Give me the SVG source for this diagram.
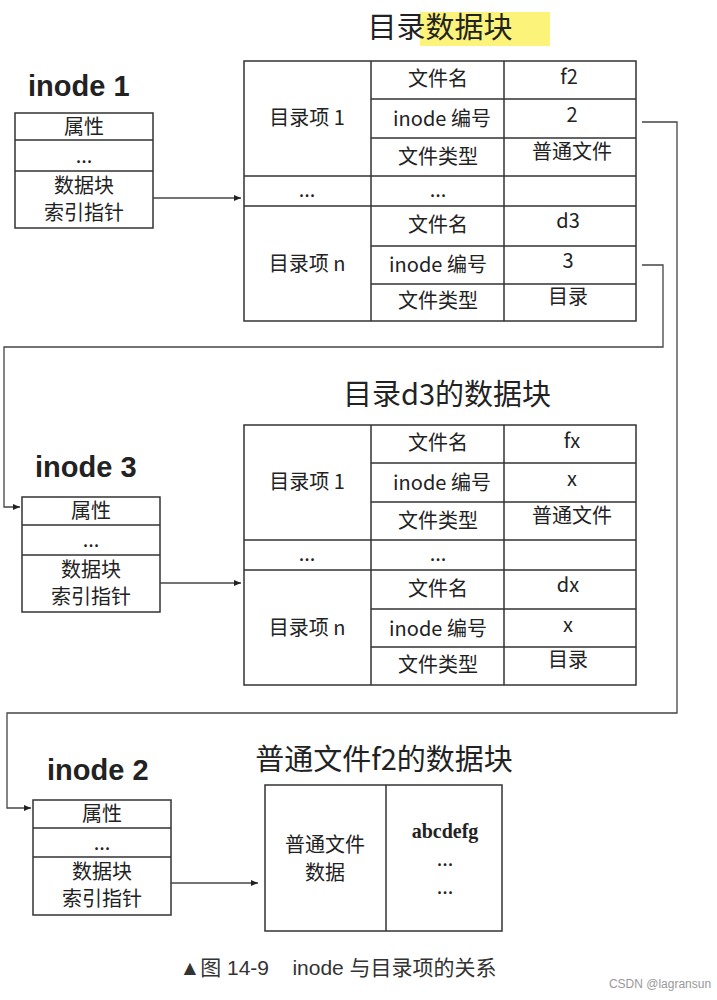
<svg xmlns="http://www.w3.org/2000/svg" width="717" height="1000" viewBox="0 0 717 1000">
<style>
.b{fill:#fff;stroke:#333;stroke-width:1.5}
.l{stroke:#333;stroke-width:1.5;fill:none}
.c{stroke:#444;stroke-width:1.3;fill:none}
text{font-family:"Noto Sans CJK SC","Liberation Serif",sans-serif;fill:#222;text-anchor:middle}
.t{font-size:20px}
.h{font-size:29px;font-family:"Liberation Sans","Noto Sans CJK SC",sans-serif;font-weight:bold;text-anchor:start}
.T{font-size:29px}
</style>
<defs><marker id="a" markerWidth="8" markerHeight="8" refX="7" refY="4" orient="auto" markerUnits="userSpaceOnUse"><path d="M0,1 L7,4 L0,7 z" fill="#222"/></marker></defs>
<rect x="420" y="12" width="130" height="34" fill="#fbf37a"/>
<text class="T" x="440" y="38">目录数据块</text>
<text class="h" x="28" y="96">inode 1</text>
<text class="T" x="447" y="405">目录d3的数据块</text>
<text class="h" x="35" y="477">inode 3</text>
<text class="T" x="384" y="770">普通文件f2的数据块</text>
<text class="h" x="47" y="780">inode 2</text>

<g id="inode1">
<rect class="b" x="15" y="113" width="138" height="115"/>
<path class="l" d="M15 140H153M15 171H153"/>
<text class="t" x="84" y="134">属性</text><text class="t" x="84" y="163">...</text>
<text class="t" x="84" y="193">数据块</text><text class="t" x="84" y="220">索引指针</text>
</g>
<g id="inode3">
<rect class="b" x="22" y="497" width="138" height="115"/>
<path class="l" d="M22 525H160M22 555H160"/>
<text class="t" x="91" y="518">属性</text><text class="t" x="91" y="547">...</text>
<text class="t" x="91" y="577">数据块</text><text class="t" x="91" y="604">索引指针</text>
</g>
<g id="inode2">
<rect class="b" x="33" y="800" width="138" height="115"/>
<path class="l" d="M33 828H171M33 857H171"/>
<text class="t" x="102" y="821">属性</text><text class="t" x="102" y="850">...</text>
<text class="t" x="102" y="879">数据块</text><text class="t" x="102" y="906">索引指针</text>
</g>

<g id="dir1">
<rect class="b" x="244" y="61" width="392" height="260"/>
<path class="l" d="M371 61V321M504 61V321M371 99H636M371 138H636M244 176H636M244 206H636M371 246H636M371 284H636"/>
<text class="t" x="307" y="125">目录项 1</text><text class="t" x="307" y="197">...</text><text class="t" x="307" y="271">目录项 n</text>
<text class="t" x="438" y="86">文件名</text><text class="t" x="569" y="84">f2</text>
<text class="t" x="442" y="126">inode 编号</text><text class="t" x="572" y="122">2</text>
<text class="t" x="438" y="164">文件类型</text><text class="t" x="572" y="159">普通文件</text>
<text class="t" x="438" y="197">...</text>
<text class="t" x="438" y="232">文件名</text><text class="t" x="568" y="228">d3</text>
<text class="t" x="438" y="272">inode 编号</text><text class="t" x="568" y="268">3</text>
<text class="t" x="438" y="308">文件类型</text><text class="t" x="568" y="304">目录</text>
</g>
<g id="dir3">
<rect class="b" x="244" y="425" width="392" height="260"/>
<path class="l" d="M371 425V685M504 425V685M371 463H636M371 502H636M244 540H636M244 570H636M371 609H636M371 647H636"/>
<text class="t" x="307" y="489">目录项 1</text><text class="t" x="307" y="561">...</text><text class="t" x="307" y="635">目录项 n</text>
<text class="t" x="438" y="450">文件名</text><text class="t" x="572" y="448">fx</text>
<text class="t" x="442" y="490">inode 编号</text><text class="t" x="572" y="486">x</text>
<text class="t" x="438" y="528">文件类型</text><text class="t" x="572" y="523">普通文件</text>
<text class="t" x="438" y="561">...</text>
<text class="t" x="438" y="596">文件名</text><text class="t" x="568" y="592">dx</text>
<text class="t" x="438" y="636">inode 编号</text><text class="t" x="568" y="632">x</text>
<text class="t" x="438" y="672">文件类型</text><text class="t" x="568" y="667">目录</text>
</g>
<g id="file2">
<rect class="b" x="265" y="785" width="237" height="146"/>
<path class="l" d="M386 785V931"/>
<text class="t" x="325" y="852">普通文件</text><text class="t" x="325" y="880">数据</text>
<text class="t" x="445" y="838" style="font-family:'Liberation Serif',serif;font-weight:bold">abcdefg</text>
<text class="t" x="445" y="866">...</text><text class="t" x="445" y="894">...</text>
</g>

<g id="connectors">
<path class="c" d="M153 198H241" marker-end="url(#a)"/>
<path class="c" d="M160 583H241" marker-end="url(#a)"/>
<path class="c" d="M171 883H258" marker-end="url(#a)"/>
<path class="c" d="M642 122H677V713H7V808H31" marker-end="url(#a)"/>
<path class="c" d="M642 265H663V347H4V507H20" marker-end="url(#a)"/>
</g>
<text x="338" y="975" style="font-size:21px;font-family:'Liberation Sans','Noto Sans CJK SC',sans-serif;fill:#333;white-space:pre">▲图 14-9    inode 与目录项的关系</text>
<text x="660" y="988" style="font-size:12px;fill:#999;font-family:'Liberation Sans',sans-serif">CSDN @lagransun</text>
</svg>
